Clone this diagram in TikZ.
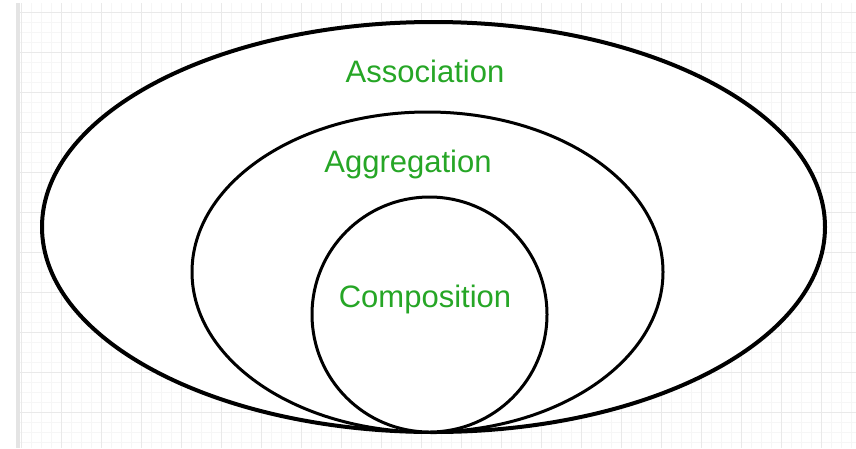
\documentclass[tikz,border=0pt]{standalone}
\usepackage{fontspec}
\setmainfont{Liberation Sans}
\usepackage{tikz}
\usetikzlibrary{shapes.geometric,positioning}
\definecolor{labelgreen}{RGB}{38,166,38}
\definecolor{gridminor}{RGB}{246,246,246}
\definecolor{gridmajor}{RGB}{233,233,233}
\definecolor{gridedge}{RGB}{228,228,228}

\begin{document}
\begin{tikzpicture}[x=1pt,y=-1pt,
  set/.style = {shape = ellipse, draw = black, fill = white, inner sep = 0pt, line width = 3pt},
  set label/.style = {text = labelgreen, anchor = base, inner sep = 0pt, font = \fontsize{31}{36}\selectfont},
  grid line/.style = {line width = 1pt}]
\useasboundingbox (0,0) rectangle (856,448);
\fill[white] (0,0) rectangle (856,448);

% background grid
\foreach \x in {21,31,...,851}
  { \draw[grid line, gridminor] (\x,3) -- (\x,448); }
\foreach \y in {12,22,...,442}
  { \draw[grid line, gridminor] (20,\y) -- (856,\y); }
\foreach \x in {21,61,...,821}
  { \draw[grid line, gridmajor] (\x,3) -- (\x,448); }
\foreach \y in {12,52,...,412}
  { \draw[grid line, gridmajor] (20,\y) -- (856,\y); }
\fill[gridedge] (16,3) rectangle (20,448);

% nested sets
\node[set, line width = 4pt, minimum width = 783pt, minimum height = 410pt] (association) at (433.5,227) {};
\node[set, minimum width = 471pt, minimum height = 320pt] (aggregation) at (427.5,272) {};
\node[set, minimum width = 235pt, minimum height = 235pt] (composition) at (429.5,314.5) {};

\node[set label] (association label) at (425,82) {Association};
\node[set label] (aggregation label) at (408,172) {Aggregation};
\node[set label] (composition label) at (425,307) {Composition};

\end{tikzpicture}
\end{document}
